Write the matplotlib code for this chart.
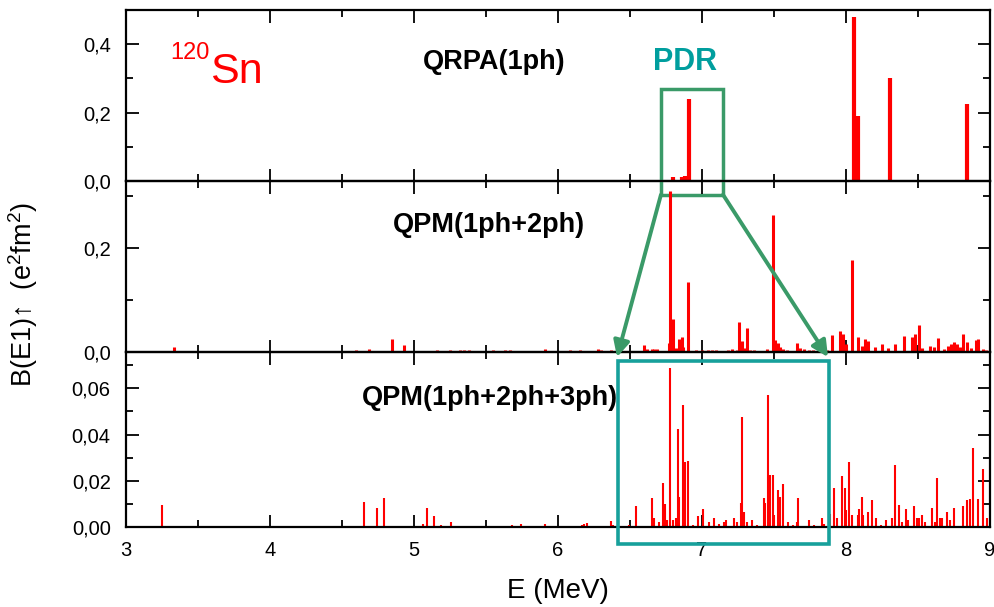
import matplotlib
matplotlib.use("Agg")
import matplotlib.pyplot as plt
from matplotlib.patches import Rectangle, ConnectionPatch
from matplotlib.ticker import MultipleLocator, FuncFormatter

plt.rcParams['font.family'] = ['Liberation Sans', 'DejaVu Sans']
plt.rcParams['mathtext.fontset'] = 'custom'
plt.rcParams['mathtext.rm'] = 'Liberation Sans'
plt.rcParams['mathtext.it'] = 'Liberation Sans'

# ---------------- data ----------------
E_qrpa = [6.80, 6.86, 6.88, 6.91, 8.056, 8.08, 8.306, 8.84]
B_qrpa = [0.012, 0.012, 0.015, 0.24, 0.48, 0.19, 0.30, 0.225]

E_2ph = [3.33, 4.60, 4.69, 4.85, 4.93, 5.16, 5.25, 5.32, 5.35, 5.38, 5.55, 5.63, 5.67,
         5.91, 6.08, 6.15, 6.28, 6.30, 6.37, 6.60, 6.62, 6.65, 6.67, 6.69, 6.77, 6.78,
         6.80, 6.82, 6.84, 6.86, 6.87, 6.90, 6.96, 7.00, 7.04, 7.07, 7.10, 7.18, 7.21,
         7.24, 7.26, 7.28, 7.29, 7.31, 7.33, 7.36, 7.38, 7.45, 7.49, 7.51, 7.53, 7.54,
         7.56, 7.59, 7.66, 7.68, 7.71, 7.74, 7.77, 7.83, 7.87, 7.90, 7.96, 7.98, 8.00,
         8.04, 8.08, 8.11, 8.13, 8.15, 8.20, 8.25, 8.29, 8.34, 8.40, 8.46, 8.48, 8.51,
         8.53, 8.58, 8.61, 8.64, 8.68, 8.71, 8.73, 8.75, 8.77, 8.79, 8.81, 8.84, 8.87,
         8.90, 8.92, 8.95, 8.97]
B_2ph = [0.009, 0.003, 0.005, 0.025, 0.014, 0.003, 0.004, 0.004, 0.004, 0.004, 0.003, 0.003, 0.003,
         0.006, 0.003, 0.003, 0.005, 0.004, 0.003, 0.013, 0.006, 0.005, 0.005, 0.005, 0.018, 0.31,
         0.063, 0.008, 0.025, 0.028, 0.010, 0.135, 0.004, 0.003, 0.003, 0.003, 0.003, 0.003, 0.005,
         0.004, 0.058, 0.022, 0.008, 0.046, 0.004, 0.003, 0.002, 0.005, 0.263, 0.023, 0.018, 0.010,
         0.006, 0.003, 0.018, 0.008, 0.005, 0.004, 0.003, 0.003, 0.004, 0.032, 0.041, 0.034, 0.015,
         0.177, 0.028, 0.012, 0.025, 0.022, 0.009, 0.016, 0.007, 0.016, 0.031, 0.029, 0.034, 0.052,
         0.008, 0.012, 0.010, 0.027, 0.006, 0.012, 0.016, 0.020, 0.015, 0.010, 0.035, 0.020, 0.008,
         0.024, 0.025, 0.006, 0.004]

E_3ph = [3.25, 4.65, 4.74, 4.79, 5.06, 5.09, 5.14, 5.19, 5.26, 5.68, 5.74, 5.91, 6.17, 6.18,
         6.20, 6.37, 6.38, 6.49, 6.54, 6.65, 6.67, 6.70, 6.73, 6.74, 6.76, 6.78, 6.80, 6.82,
         6.83, 6.84, 6.87, 6.88, 6.90, 6.94, 6.97, 7.01, 7.05, 7.08, 7.12, 7.15, 7.17, 7.22,
         7.24, 7.27, 7.28, 7.29, 7.31, 7.35, 7.38, 7.43, 7.44, 7.46, 7.47, 7.49, 7.50, 7.53,
         7.54, 7.56, 7.60, 7.63, 7.66, 7.67, 7.74, 7.78, 7.83, 7.85, 7.89, 7.92, 7.94, 7.97,
         7.99, 8.00, 8.02, 8.04, 8.08, 8.09, 8.11, 8.12, 8.15, 8.18, 8.21, 8.24, 8.28, 8.32,
         8.34, 8.37, 8.39, 8.42, 8.43, 8.47, 8.49, 8.51, 8.53, 8.55, 8.60, 8.62, 8.63, 8.65,
         8.67, 8.70, 8.72, 8.75, 8.81, 8.84, 8.86, 8.88, 8.92, 8.95, 8.98]
B_3ph = [0.0095, 0.011, 0.0084, 0.0125, 0.0015, 0.0083, 0.0046, 0.001, 0.002, 0.001, 0.0015, 0.0015, 0.0008, 0.0012,
         0.0018, 0.0026, 0.001, 0.001, 0.009, 0.0125, 0.004, 0.002, 0.019, 0.010, 0.003, 0.0687, 0.003, 0.004,
         0.0426, 0.013, 0.0526, 0.028, 0.0287, 0.001, 0.0048, 0.0078, 0.002, 0.004, 0.0015, 0.002, 0.003, 0.004,
         0.002, 0.0104, 0.0474, 0.0065, 0.002, 0.003, 0.001, 0.0126, 0.0104, 0.057, 0.0226, 0.0226, 0.005, 0.016,
         0.013, 0.0187, 0.002, 0.001, 0.002, 0.0126, 0.003, 0.001, 0.004, 0.0015, 0.0055, 0.0167, 0.004, 0.022,
         0.017, 0.0075, 0.028, 0.005, 0.005, 0.0076, 0.0128, 0.005, 0.0067, 0.0115, 0.004, 0.001, 0.003, 0.004,
         0.027, 0.0097, 0.002, 0.008, 0.003, 0.009, 0.004, 0.004, 0.005, 0.002, 0.0083, 0.002, 0.021, 0.004,
         0.004, 0.0067, 0.003, 0.0083, 0.009, 0.0116, 0.012, 0.034, 0.0123, 0.025, 0.0038]

panel_labels = ["QRPA(1ph)", "QPM(1ph+2ph)", "QPM(1ph+2ph+3ph)"]
x_ticks = [3, 4, 5, 6, 7, 8, 9]

RED = '#ff0000'
GREEN = '#3a9a68'
TEAL = '#17a09b'
PDR_COL = '#009e9e'

# ---------------- figure ----------------
W, H = 994, 607
fig = plt.figure(figsize=(W / 100, H / 100), dpi=100)

def fx(px):
    return px / W

def fy(py):
    return 1 - py / H

L, R = 126, 990
ax1 = fig.add_axes([fx(L), fy(181), fx(R - L), (181 - 10) / H])
ax2 = fig.add_axes([fx(L), fy(352), fx(R - L), (352 - 181) / H])
ax3 = fig.add_axes([fx(L), fy(527), fx(R - L), (527 - 352) / H])

ax1.vlines(E_qrpa, 0, B_qrpa, color=RED, lw=3.0)
ax2.vlines(E_2ph, 0, B_2ph, color=RED, lw=2.2)
ax3.vlines(E_3ph, 0, B_3ph, color=RED, lw=1.5)

ax1.set_ylim(0, 0.50)
ax2.set_ylim(0, 0.329)
ax3.set_ylim(0, 0.0757)

def comma(fmt):
    return FuncFormatter(lambda v, p: (fmt % v).replace('.', ','))

ax1.yaxis.set_major_locator(MultipleLocator(0.2))
ax1.yaxis.set_minor_locator(MultipleLocator(0.1))
ax1.yaxis.set_major_formatter(comma('%.1f'))
ax2.yaxis.set_major_locator(MultipleLocator(0.2))
ax2.yaxis.set_minor_locator(MultipleLocator(0.1))
ax2.yaxis.set_major_formatter(comma('%.1f'))
ax3.yaxis.set_major_locator(MultipleLocator(0.02))
ax3.yaxis.set_minor_locator(MultipleLocator(0.01))
ax3.yaxis.set_major_formatter(comma('%.2f'))

for ax in (ax1, ax2, ax3):
    ax.set_xlim(3, 9)
    ax.set_xticks(x_ticks)
    ax.xaxis.set_minor_locator(MultipleLocator(0.5))
    ax.tick_params(which='both', direction='in', top=True, right=True, width=1.3)
    ax.tick_params(which='major', length=9)
    ax.tick_params(which='minor', length=5)
    ax.tick_params(axis='y', labelsize=14.5, pad=11)
    ax.tick_params(axis='x', labelsize=14.5, pad=10)
    for s in ax.spines.values():
        s.set_linewidth(1.6)
    ax.patch.set_alpha(0)
ax1.tick_params(labelbottom=False)
ax2.tick_params(labelbottom=False)

# panel labels
ax1.text(0.426, 0.696, panel_labels[0], transform=ax1.transAxes, ha='center', va='center',
         fontsize=19.5, fontweight='bold')
ax2.text(0.42, 0.743, panel_labels[1], transform=ax2.transAxes, ha='center', va='center',
         fontsize=19.5, fontweight='bold')
ax3.text(0.421, 0.737, panel_labels[2], transform=ax3.transAxes, ha='center', va='center',
         fontsize=19.5, fontweight='bold')

# 120Sn
ax1.text(0.051, 0.713, "120", transform=ax1.transAxes, ha='left', va='baseline',
         fontsize=17, color=RED)
ax1.text(0.097, 0.573, "Sn", transform=ax1.transAxes, ha='left', va='baseline',
         fontsize=31, color=RED)
# PDR
ax1.text(0.61, 0.649, "PDR", transform=ax1.transAxes, ha='left', va='baseline',
         fontsize=22, fontweight='bold', color=PDR_COL)

# green zoom box in top panel
gbox = Rectangle((6.715, -0.04), 7.146 - 6.715, 0.27 + 0.04, fill=False, ec=GREEN, lw=2.5,
                 clip_on=False, zorder=5)
ax1.add_patch(gbox)

# teal box in bottom panel
tbox = Rectangle((6.42, -0.0072), 7.88 - 6.42, 0.0717 + 0.0072, fill=False, ec=TEAL, lw=2.6,
                 clip_on=False, zorder=6)
ax3.add_patch(tbox)

# arrows
for xa, xb in ((6.715, 6.41), (7.146, 7.875)):
    cp = ConnectionPatch(xyA=(xa, -0.04), coordsA=ax1.transData,
                         xyB=(xb, 0.0735), coordsB=ax3.transData,
                         arrowstyle='-|>', mutation_scale=24, lw=2.8, color=GREEN, zorder=7)
    fig.add_artist(cp)

# axis labels
fig.text(fx(23), fy(295), "B(E1)\u2191  (e$^2$fm$^2$)", rotation=90, ha='center', va='center',
         fontsize=19.5)
fig.text(fx(558), fy(591), "E (MeV)", ha='center', va='center', fontsize=20)

fig.savefig("out.png", dpi=100)
